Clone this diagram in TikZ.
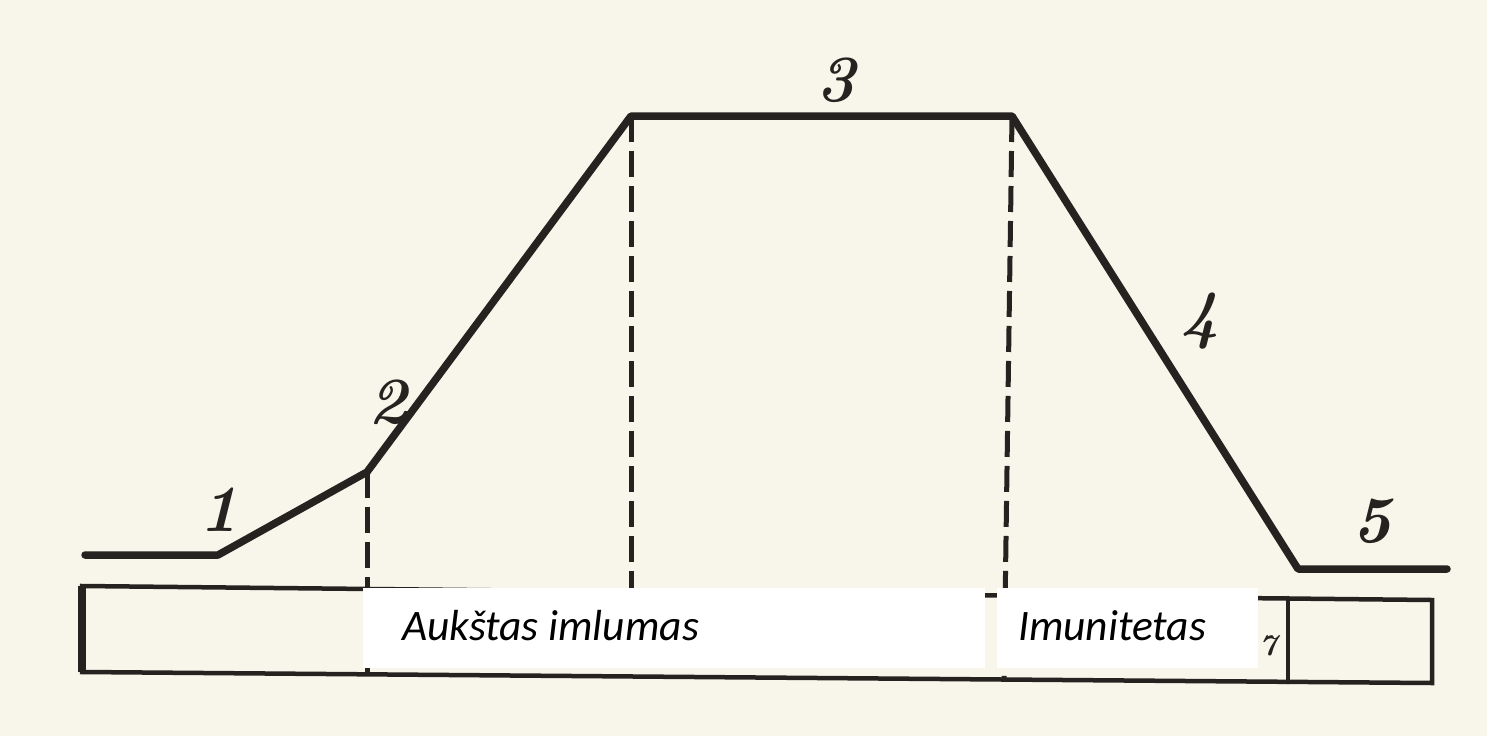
\documentclass[tikz,border=0pt]{standalone}
\usepackage{fontspec}
\newfontfamily\calib{Carlito}
\definecolor{paper}{HTML}{F8F5EB}
\definecolor{ink}{HTML}{26221F}
\tikzset{
  curve/.style={draw=ink, line width=7.5pt, line join=round, line cap=round},
  bar/.style={draw=ink, line width=4.5pt, line cap=round},
  dashv/.style={draw=ink, line width=5pt, dash pattern=on 26pt off 9pt},
  num/.style={text=ink, font=\fontsize{66}{66}\selectfont\bfseries\itshape, inner sep=0pt},
  whitebox/.style={fill=white, draw=none, inner sep=0pt, minimum width=#1, minimum height=80pt},
  lbl/.style={font=\calib\itshape\fontsize{43.5}{50}\selectfont, text=black, inner sep=0pt, anchor=base west}
}
\begin{document}
\begin{tikzpicture}[x=1pt,y=-1pt]
\fill[paper] (0,0) rectangle (1487,736);
\useasboundingbox (0,0) rectangle (1487,736);
% curve points
\coordinate (p0) at (85,555);
\coordinate (p1) at (218,555);
\coordinate (p2) at (367,472);
\coordinate (p3) at (631,116);
\coordinate (p4) at (1012,116);
\coordinate (p5) at (1298,569);
\coordinate (p6) at (1447,569);
% bar corners
\coordinate (tl) at (82,586);
\coordinate (tr) at (1432,600);
\coordinate (bl) at (82,672);
\coordinate (br) at (1432,683);
\coordinate (dt) at (1288,598);
\coordinate (db) at (1288,682);
% dashed line ends
\coordinate (d1b) at (367,676);
\coordinate (d2b) at (631,677);
\coordinate (d3b) at (1004,680);
% dashed verticals
\draw[dashv] (p2) -- (d1b);
\draw[dashv] (p3) -- (d2b);
\draw[dashv] (p4) -- (d3b);
% bar
\draw[bar] (tl) -- (tr) -- (br) -- (bl) -- cycle;
\draw[bar] (dt) -- (db);
\draw[draw=ink, line width=8pt] (tl) -- (bl);
% curve
\draw[curve] (p0) -- (p1) -- (p2) -- (p3) -- (p4) -- (p5) -- (p6);
% remnant digit
\node[text=ink, font=\fontsize{30}{30}\selectfont\bfseries\itshape, inner sep=0pt] (seven) at (1268,646) {7};
% white label boxes
\node[whitebox=622pt] (box1) at (674,628) {};
\node[whitebox=261pt] (box2) at (1127.5,628) {};
\node[lbl] (t1) at (402,640) {Aukštas imlumas};
\node[lbl] (t2) at (1018,640) {Imunitetas};
% numbers
\node[num] (n1) at (219,510) {1};
\node[num] (n2) at (388,402) {2};
\node[num] (n3) at (836,80) {3};
\node[num] (n4) at (1200,321) {4};
\node[num] (n5) at (1372,521) {5};
\end{tikzpicture}
\end{document}
